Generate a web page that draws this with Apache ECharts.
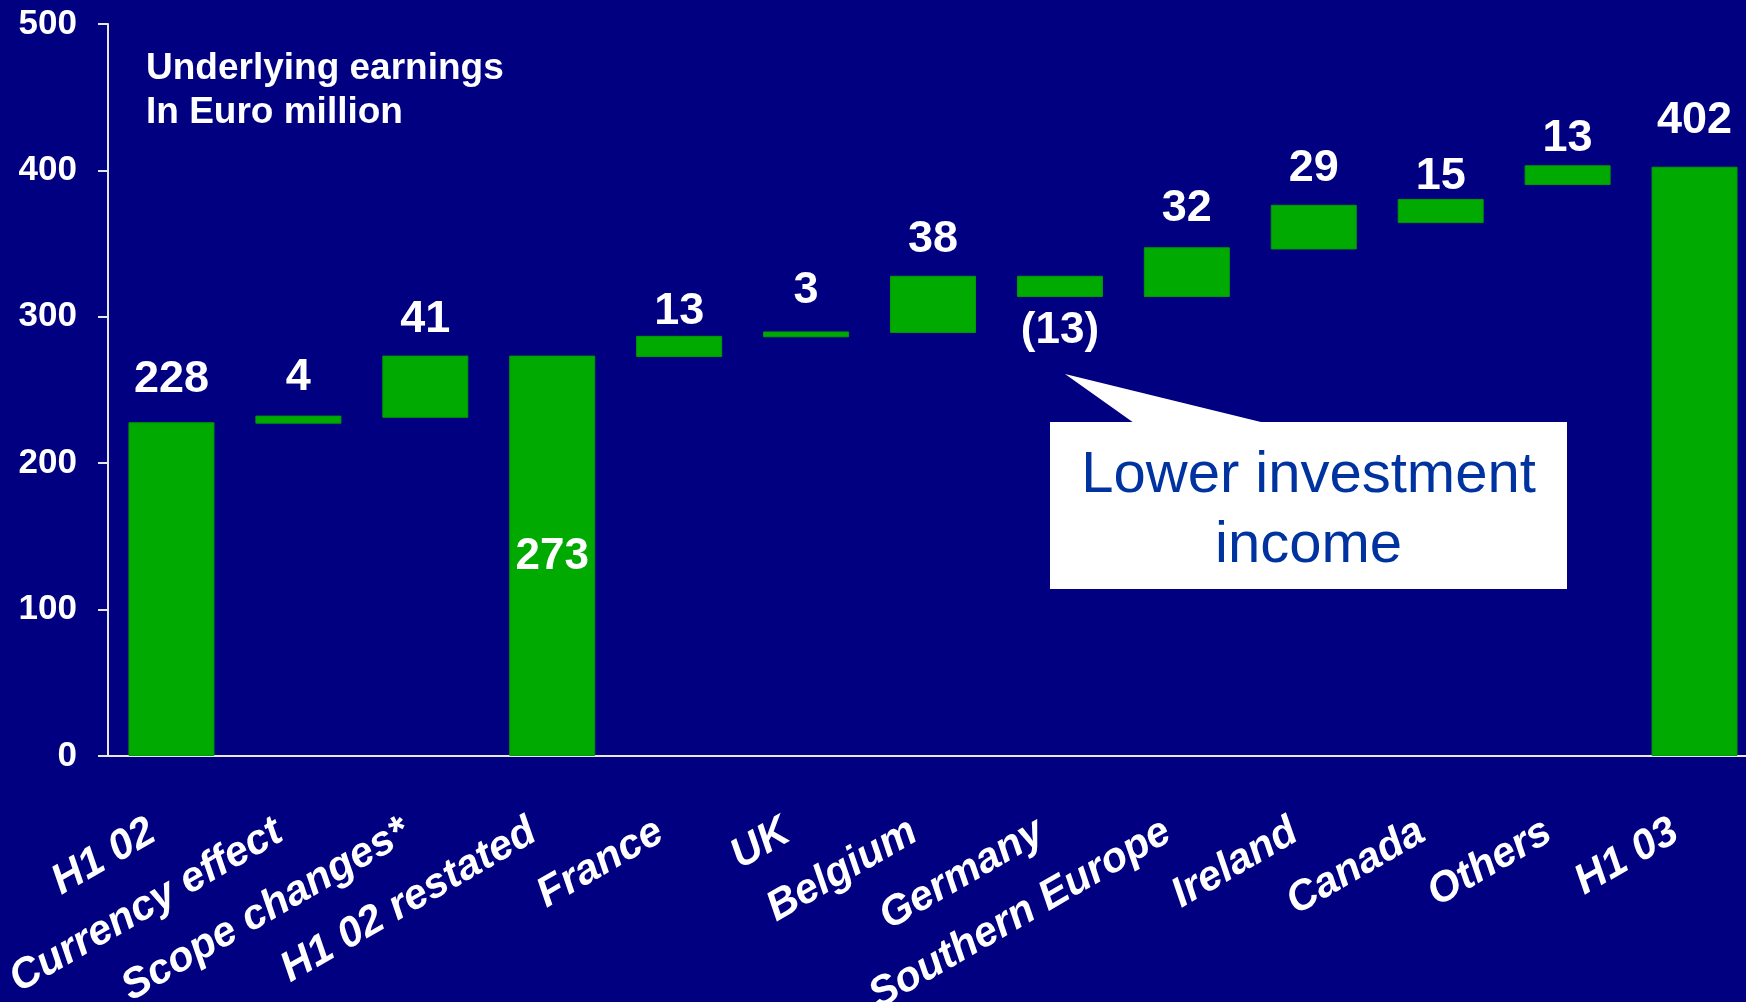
<!DOCTYPE html>
<html>
<head>
<meta charset="utf-8">
<title>Underlying earnings</title>
<script src="https://cdn.jsdelivr.net/npm/echarts@6/dist/echarts.min.js"></script>
<style>
  html, body { margin: 0; padding: 0; background: #000080; }
  #chart { width: 1746px; height: 1002px; }
</style>
</head>
<body>
<div id="chart"></div>
<script>
// categories and values
const categories = ['H1 02', 'Currency effect', 'Scope changes*', 'H1 02 restated', 'France', 'UK',
  'Belgium', 'Germany', 'Southern Europe', 'Ireland', 'Canada', 'Others', 'H1 03'];
const amountLabels = ['228', '4', '41', '273', '13', '3', '38', '(13)', '32', '29', '15', '13', '402'];
// bottom and top of every bar, in Euro million
const barLow = [0, 227, 231, 0, 272.5, 286, 289, 313.5, 313.5, 346, 364, 390, 0];
const barHigh = [228, 232.5, 273.5, 273.5, 287, 290, 328, 328, 347.5, 376.5, 380.5, 403.5, 402.5];
const yTicks = [0, 100, 200, 300, 400, 500];

// label gap above each bar (px)
const labelGap = [20, 16, 14, 0, 2, 18, 14, 12, 16, 14, 0, 4, 24];

const FONT = '"Liberation Sans", Arial, sans-serif';

let myChart = echarts.init(document.getElementById('chart'));

let visible = barHigh.map((h, i) => {
    let item = { value: h - barLow[i], label: { distance: labelGap[i] } };
    if (amountLabels[i] === '273') {
        item.label = { position: 'inside', offset: [0, 1], fontSize: 44, lineHeight: 44 };
    }
    if (amountLabels[i] === '(13)') {
        item.label = { position: 'bottom', distance: labelGap[i], fontSize: 44, lineHeight: 44 };
    }
    return item;
});

myChart.setOption({
    backgroundColor: '#000080',
    animation: false,
    title: {
        text: 'Underlying earnings\nIn Euro million',
        left: 146,
        top: 47,
        padding: 0,
        textStyle: { color: '#ffffff', fontSize: 37, fontWeight: 'bold', fontFamily: FONT, lineHeight: 44 }
    },
    grid: {
        left: 108,
        top: 24,
        width: 1650,
        height: 732,
        containLabel: false,
        outerBoundsMode: 'none'
    },
    xAxis: {
        type: 'category',
        data: categories,
        axisLine: { lineStyle: { color: '#e8e8e8', width: 2 } },
        axisTick: { show: false },
        axisLabel: {
            interval: 0,
            rotate: 30,
            margin: 62,
            color: '#ffffff',
            fontSize: 42,
            fontWeight: 'bold',
            fontStyle: 'italic',
            fontFamily: FONT,
            formatter: v => '{c|' + v + '}',
            rich: {
                c: {
                    color: '#ffffff',
                    fontSize: 42,
                    fontWeight: 'bold',
                    fontStyle: 'italic',
                    fontFamily: FONT,
                    padding: [0, 22, 0, 0]
                }
            }
        }
    },
    yAxis: {
        type: 'value',
        min: yTicks[0],
        max: yTicks[yTicks.length - 1],
        interval: 100,
        splitLine: { show: false },
        axisLine: { show: true, lineStyle: { color: '#e8e8e8', width: 2 } },
        axisTick: { show: true, length: 10, lineStyle: { color: '#e8e8e8', width: 2 } },
        axisLabel: {
            margin: 31,
            color: '#ffffff',
            fontSize: 35,
            fontWeight: 'bold',
            fontFamily: FONT
        }
    },
    series: [
        {
            // 透明底座
            type: 'bar',
            stack: 'w',
            barWidth: 86,
            data: barLow,
            itemStyle: { color: 'transparent' },
            silent: true
        },
        {
            type: 'bar',
            stack: 'w',
            barWidth: 86,
            data: visible,
            itemStyle: { color: '#00aa00', borderColor: '#009a00', borderWidth: 1 },
            label: {
                show: true,
                position: 'top',
                color: '#ffffff',
                fontSize: 45,
                lineHeight: 45,
                fontWeight: 'bold',
                fontFamily: FONT,
                formatter: p => amountLabels[p.dataIndex]
            }
        }
    ],
    graphic: [
        {
            type: 'polygon',
            shape: { points: [[1065, 374], [1134, 423], [1265, 423]] },
            style: { fill: '#ffffff' }
        },
        {
            type: 'rect',
            shape: { x: 1050, y: 422, width: 517, height: 167 },
            style: { fill: '#ffffff' }
        },
        {
            type: 'text',
            x: 1308.5,
            y: 511,
            style: {
                text: 'Lower investment\nincome',
                fill: '#0033a0',
                font: '58px ' + FONT,
                lineHeight: 70.6,
                align: 'center',
                verticalAlign: 'middle'
            }
        }
    ]
});
</script>
</body>
</html>
